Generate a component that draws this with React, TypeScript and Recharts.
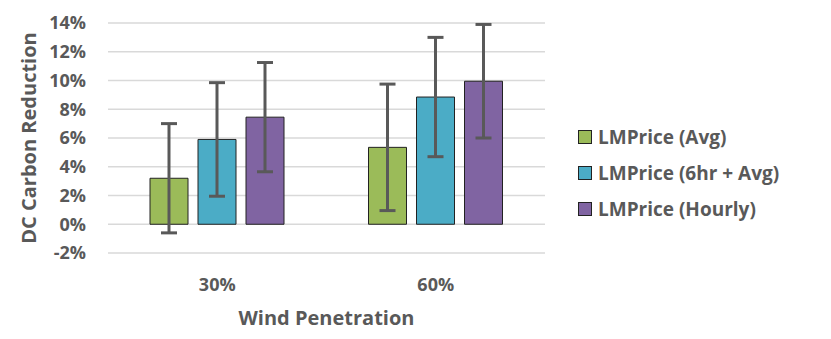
import React from 'react';
import { BarChart, Bar, XAxis, YAxis, CartesianGrid, ErrorBar, Label } from 'recharts';

const categories = ['30%', '60%'];
const avgValues = [3.2, 5.35];
const avgErrors = [3.8, 4.4];
const sixHrValues = [5.9, 8.85];
const sixHrErrors = [3.95, 4.15];
const hourlyValues = [7.45, 9.95];
const hourlyErrors = [3.8, 3.95];
const yTicks = [-2, 0, 2, 4, 6, 8, 10, 12, 14];

const seriesNames = ['LMPrice (Avg)', 'LMPrice (6hr + Avg)', 'LMPrice (Hourly)'];
const seriesColors = ['#9BBB59', '#4BACC6', '#8064A2'];

const data = categories.map((c, i) => ({
  cat: c,
  avg: avgValues[i],
  avgErr: avgErrors[i],
  six: sixHrValues[i],
  sixErr: sixHrErrors[i],
  hourly: hourlyValues[i],
  hourlyErr: hourlyErrors[i],
}));

const FONT = '"Open Sans", sans-serif';
const TEXT = '#595959';

export default function App() {
  return (
    <div style={{ position: 'absolute', left: 0, top: 0, width: 831, height: 339, background: '#fff' }}>
      <BarChart
        width={831}
        height={339}
        data={data}
        margin={{ top: 23, right: 286, left: 0, bottom: 0 }}
        barSize={38}
        barGap={10}
      >
        <CartesianGrid vertical={false} stroke="#D9D9D9" strokeWidth={1.3} />
        <XAxis
          dataKey="cat"
          height={86}
          axisLine={false}
          tickLine={false}
          tickSize={0}
          tickMargin={25}
          tick={{ fill: TEXT, fontFamily: FONT, fontWeight: 700, fontSize: 18 }}
        >
          <Label
            value="Wind Penetration"
            position="insideBottom"
            offset={14}
            style={{ fill: TEXT, fontFamily: FONT, fontWeight: 700, fontSize: 20 }}
          />
        </XAxis>
        <YAxis
          width={108}
          domain={[-2, 14]}
          ticks={yTicks}
          interval={0}
          axisLine={false}
          tickLine={false}
          tickSize={0}
          tickMargin={22}
          tickFormatter={(v: number) => `${v}%`}
          tick={{ fill: TEXT, fontFamily: FONT, fontWeight: 700, fontSize: 18 }}
        >
          <Label
            content={({ viewBox }: any) => {
              const cy = viewBox.y + viewBox.height / 2;
              return (
                <text
                  x={28}
                  y={cy}
                  transform={`rotate(-90, 28, ${cy})`}
                  textAnchor="middle"
                  dominantBaseline="central"
                  style={{ fill: TEXT, fontFamily: FONT, fontWeight: 700, fontSize: 20 }}
                >
                  DC Carbon Reduction
                </text>
              );
            }}
          />
        </YAxis>
        <Bar dataKey="avg" name={seriesNames[0]} fill={seriesColors[0]} stroke="#222" strokeWidth={1} isAnimationActive={false}>
          <ErrorBar dataKey="avgErr" width={8} strokeWidth={3} stroke="#595959" />
        </Bar>
        <Bar dataKey="six" name={seriesNames[1]} fill={seriesColors[1]} stroke="#222" strokeWidth={1} isAnimationActive={false}>
          <ErrorBar dataKey="sixErr" width={8} strokeWidth={3} stroke="#595959" />
        </Bar>
        <Bar dataKey="hourly" name={seriesNames[2]} fill={seriesColors[2]} stroke="#222" strokeWidth={1} isAnimationActive={false}>
          <ErrorBar dataKey="hourlyErr" width={8} strokeWidth={3} stroke="#595959" />
        </Bar>
      </BarChart>
      <div
        style={{
          position: 'absolute',
          left: 578,
          top: 119,
          fontFamily: FONT,
          fontWeight: 700,
          fontSize: 19,
          color: TEXT,
        }}
      >
        {seriesNames.map((n, i) => (
          <div key={n} style={{ display: 'flex', alignItems: 'center', height: 36 }}>
            <span
              style={{
                display: 'inline-block',
                width: 12,
                height: 12,
                background: seriesColors[i],
                border: '1px solid #222',
                marginRight: 6,
              }}
            />
            <span>{n}</span>
          </div>
        ))}
      </div>
    </div>
  );
}
